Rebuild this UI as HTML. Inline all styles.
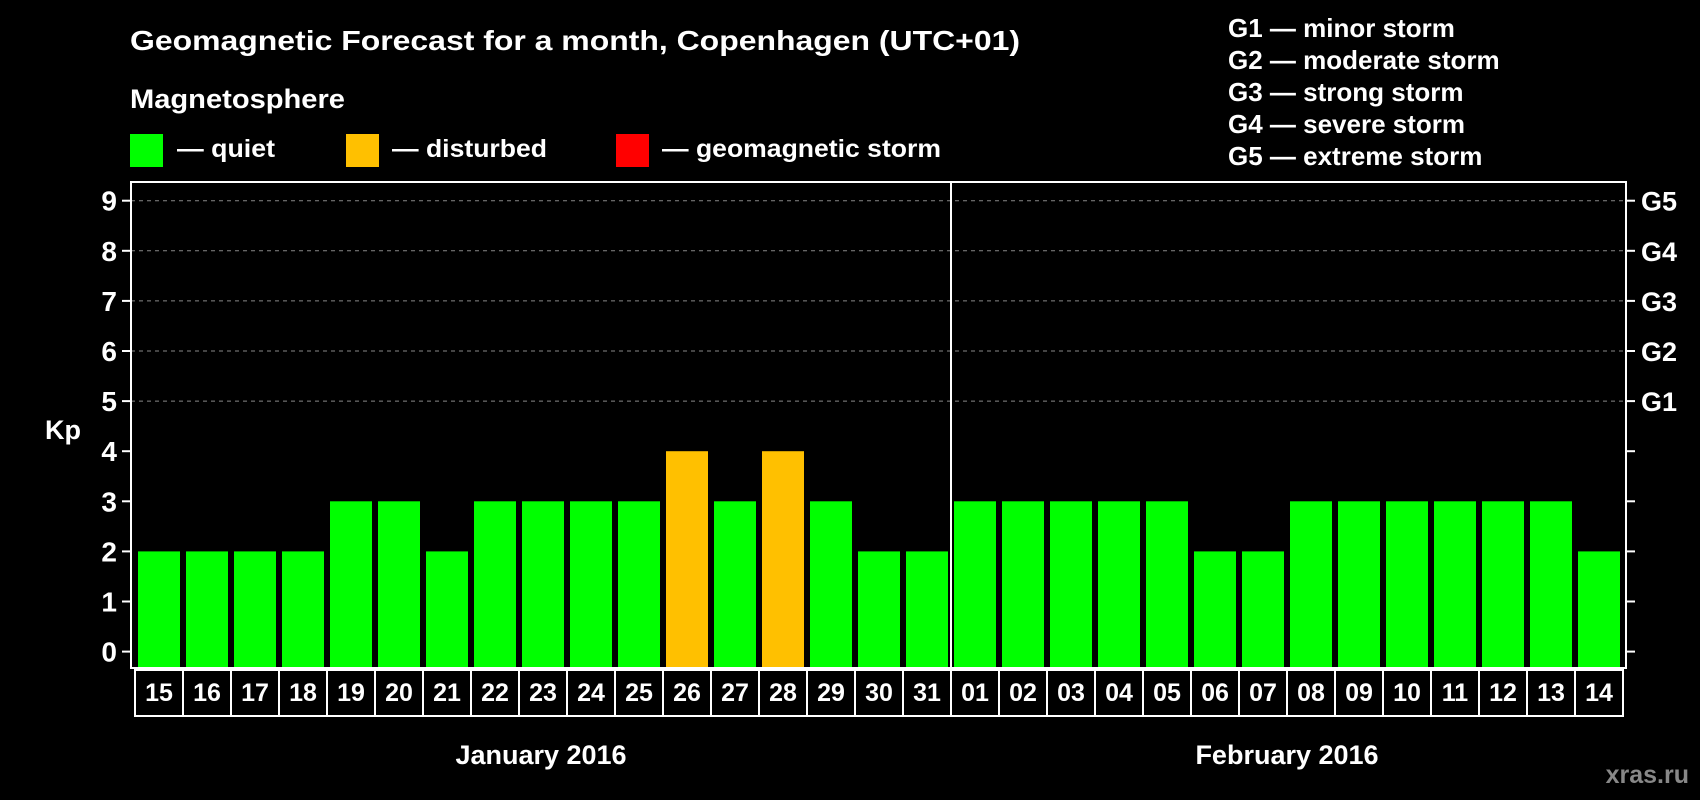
<!DOCTYPE html>
<html><head><meta charset="utf-8"><style>
html,body{margin:0;padding:0;background:#000;width:1700px;height:800px;overflow:hidden}
svg{display:block;font-family:"Liberation Sans",Arial,sans-serif;font-weight:bold}
</style></head><body>
<svg id="chart" width="1700" height="800">
<text x="130" y="50" fill="#fff" font-size="28" textLength="890" lengthAdjust="spacingAndGlyphs">Geomagnetic Forecast for a month, Copenhagen (UTC+01)</text>
<text x="130" y="108" fill="#fff" font-size="27" textLength="215" lengthAdjust="spacingAndGlyphs">Magnetosphere</text>
<rect x="130" y="134" width="33" height="33" fill="#00ff00"/>
<text x="177" y="157" fill="#fff" font-size="25" textLength="98" lengthAdjust="spacingAndGlyphs">— quiet</text>
<rect x="346" y="134" width="33" height="33" fill="#ffc000"/>
<text x="392" y="157" fill="#fff" font-size="25" textLength="155" lengthAdjust="spacingAndGlyphs">— disturbed</text>
<rect x="616" y="134" width="33" height="33" fill="#ff0000"/>
<text x="662" y="157" fill="#fff" font-size="25" textLength="279" lengthAdjust="spacingAndGlyphs">— geomagnetic storm</text>
<g fill="#fff" font-size="26">
<text x="1228" y="37">G1 — minor storm</text>
<text x="1228" y="69">G2 — moderate storm</text>
<text x="1228" y="101">G3 — strong storm</text>
<text x="1228" y="133">G4 — severe storm</text>
<text x="1228" y="165">G5 — extreme storm</text>
</g>
<text x="63" y="439" fill="#fff" font-size="27" text-anchor="middle">Kp</text>
<text x="1287" y="764" fill="#fff" font-size="27" text-anchor="middle">February 2016</text>
<text x="541" y="764" fill="#fff" font-size="27" text-anchor="middle">January 2016</text>
<text x="1689" y="783" fill="#888" font-size="25" text-anchor="end">xras.ru</text>
<g id="plot"></g>
</svg>
<script>
const days = ["15","16","17","18","19","20","21","22","23","24","25","26","27","28","29","30","31","01","02","03","04","05","06","07","08","09","10","11","12","13","14"];
const kpValues = [2,2,2,2,3,3,2,3,3,3,3,4,3,4,3,2,2,3,3,3,3,3,2,2,3,3,3,3,3,3,2];
const yTicks = [0,1,2,3,4,5,6,7,8,9];
const gLabels = ["G1","G2","G3","G4","G5"];
const gLevels = [5,6,7,8,9];
const monthBreakIndex = 17;

const NS = "http://www.w3.org/2000/svg";
const plot = document.getElementById("plot");
const L = 131, R = 1626, T = 182, B = 668;
const x0 = 135, step = 48;
const y = v => 651.6 - v * 50.1;
const xb = i => x0 + i * step;
function mk(tag, attrs, parent) {
  const e = document.createElementNS(NS, tag);
  for (const k in attrs) e.setAttribute(k, attrs[k]);
  (parent || plot).appendChild(e);
  return e;
}
gLevels.forEach(v => {
  const g = mk("line", {x1: L, x2: R, y1: y(v), y2: y(v), stroke: "#888", "stroke-dasharray": "4,4", "stroke-width": 1});
  
  
});
kpValues.forEach((v, i) => {
  const col = v >= 5 ? "#ff0000" : (v >= 4 ? "#ffc000" : "#00ff00");
  const r = mk("rect", {x: xb(i) + 3, y: y(v), width: 42, height: B - y(v), fill: col});
  
  
});
const fr = mk("rect", {x: L, y: T, width: R - L, height: B - T, fill: "none", stroke: "#fff", "stroke-width": 2});


const sep = mk("line", {x1: xb(monthBreakIndex), x2: xb(monthBreakIndex), y1: T, y2: B, stroke: "#fff", "stroke-width": 2});


yTicks.forEach(v => {
  mk("line", {x1: L - 9, x2: L, y1: y(v), y2: y(v), stroke: "#fff", "stroke-width": 2});
  mk("line", {x1: R, x2: R + 9, y1: y(v), y2: y(v), stroke: "#fff", "stroke-width": 2});
  const t = mk("text", {x: 117, y: y(v) + 10, fill: "#fff", "font-size": 28, "text-anchor": "end"});
  t.textContent = v;
  
  
});
gLabels.forEach((g, i) => {
  const t = mk("text", {x: 1641, y: y(gLevels[i]) + 10, fill: "#fff", "font-size": 27});
  t.textContent = g;
  
  
});
days.forEach((d, i) => {
  const r = mk("rect", {x: xb(i), y: 670, width: step, height: 46, fill: "none", stroke: "#fff", "stroke-width": 2});
  
  
  const t = mk("text", {x: xb(i) + step / 2, y: 701, fill: "#fff", "font-size": 25, "text-anchor": "middle"});
  t.textContent = d;
  
  
});
</script>
</body></html>
